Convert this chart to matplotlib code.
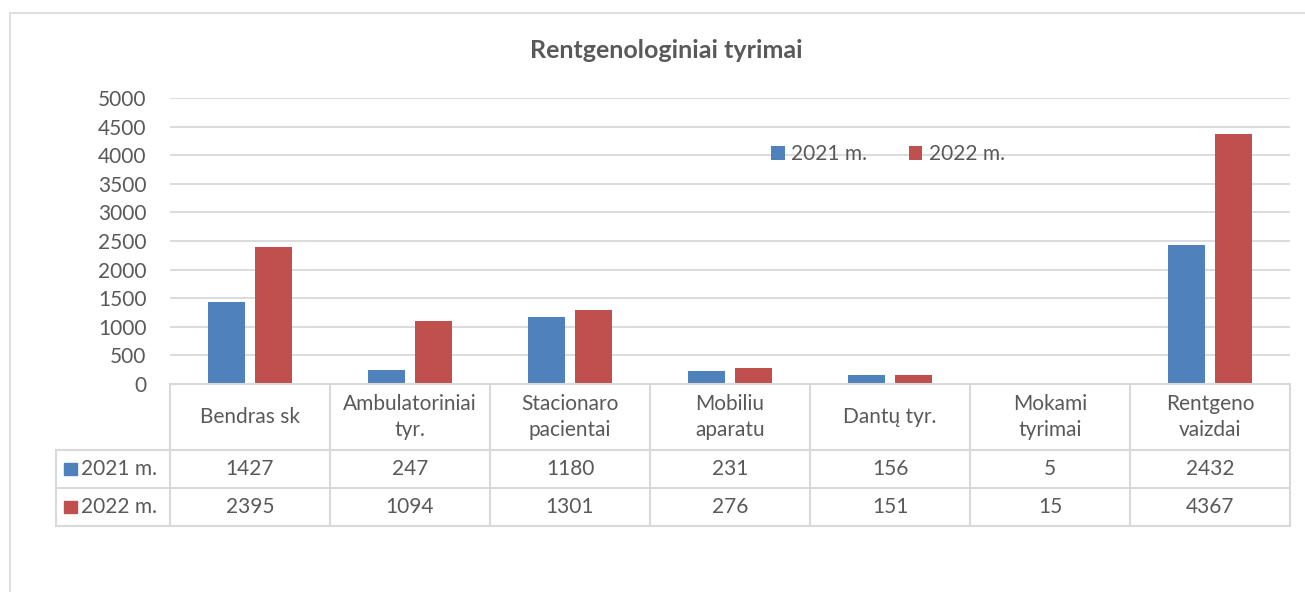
import numpy as np
import matplotlib
matplotlib.use("Agg")
import matplotlib.pyplot as plt
from matplotlib.patches import Rectangle

# -------------------------------
# Data
# -------------------------------
categories = ["Bendras sk", "Ambulatoriniai\ntyr.", "Stacionaro\npacientai",
              "Mobiliu\naparatu", "Dantų tyr.", "Mokami\ntyrimai", "Rentgeno\nvaizdai"]
series_names = ["2021 m.", "2022 m."]
values_2021 = [1427, 247, 1180, 231, 156, 5, 2432]
values_2022 = [2395, 1094, 1301, 276, 151, 15, 4367]
y_ticks = [0, 500, 1000, 1500, 2000, 2500, 3000, 3500, 4000, 4500, 5000]
title = "Rentgenologiniai tyrimai"

colors = ["#4F81BD", "#C0504D"]
text_color = "#595959"
line_color = "#D9D9D9"
font = "Lato"
fs = 15

W, H = 1305, 592
plt.rcParams["font.family"] = [font, "DejaVu Sans"]


def fx(px):
    return px / W


def fy(py):
    return 1 - py / H


fig = plt.figure(figsize=(W / 100, H / 100), dpi=100)

# outer chart border (clipped by the image on the right/bottom)
fig.patches.append(Rectangle((fx(10), fy(600)), fx(1400), fy(13) - fy(600),
                             transform=fig.transFigure, fill=False,
                             edgecolor=line_color, linewidth=1.2))

# -------------------------------
# Bars
# -------------------------------
ax = fig.add_axes([fx(170), fy(384), fx(1290) - fx(170), fy(98) - fy(384)])
x = np.arange(len(categories))
bw = 0.23
off = 0.145
ax.bar(x - off, values_2021, bw, color=colors[0], label=series_names[0], zorder=3)
ax.bar(x + off, values_2022, bw, color=colors[1], label=series_names[1], zorder=3)
ax.set_xlim(-0.5, len(categories) - 0.5)
ax.set_ylim(0, 5000)
ax.set_yticks(y_ticks)
ax.yaxis.grid(True, color=line_color, linewidth=1.3, zorder=0)
ax.set_xticks([])
for s in ax.spines.values():
    s.set_visible(False)
ax.tick_params(axis="y", length=0, pad=17, labelsize=fs, labelcolor=text_color)

fig.text(fx(666), fy(50), title, ha="center", va="center", fontsize=18,
         fontweight="bold", color=text_color)

fig.legend(loc="center", bbox_to_anchor=(fx(888), fy(154)), ncol=2, frameon=False,
           fontsize=fs, labelcolor=text_color, handlelength=0.65, handleheight=0.65,
           handletextpad=0.3, columnspacing=2.0)

# -------------------------------
# Data table
# -------------------------------
left_px = 56
col_w = 160
tax = fig.add_axes([fx(left_px), fy(526), fx(1290) - fx(left_px), fy(384) - fy(526)])
tax.set_xlim(-0.5 - (170 - left_px) / col_w, len(categories) - 0.5)
tax.set_ylim(142, 0)
tax.axis("off")

row_tops = [0, 66, 104, 142]
lw = 1.5
x_left = -0.5 - (170 - left_px) / col_w
x_right = len(categories) - 0.5
# horizontal lines
tax.plot([-0.5, x_right], [0, 0], color=line_color, lw=lw, clip_on=False)
for yy in row_tops[1:]:
    tax.plot([x_left, x_right], [yy, yy], color=line_color, lw=lw, clip_on=False)
# vertical lines
tax.plot([x_left, x_left], [66, 142], color=line_color, lw=lw, clip_on=False)
for i in range(len(categories) + 1):
    tax.plot([i - 0.5, i - 0.5], [0, 142], color=line_color, lw=lw, clip_on=False)

for i, cat in enumerate(categories):
    tax.text(i, 33, cat, ha="center", va="center", fontsize=fs, color=text_color,
             linespacing=1.4)
    tax.text(i, 85, str(values_2021[i]), ha="center", va="center", fontsize=fs,
             color=text_color)
    tax.text(i, 123, str(values_2022[i]), ha="center", va="center", fontsize=fs,
             color=text_color)

for j, (name, yy) in enumerate(zip(series_names, [85, 123])):
    mx = x_left + 8 / col_w
    tax.add_patch(Rectangle((mx, yy - 6), 13 / col_w, 12, color=colors[j], clip_on=False))
    tax.text(x_left + 25 / col_w, yy, name, ha="left", va="center", fontsize=fs,
             color=text_color)

fig.savefig("out.png", dpi=100)
